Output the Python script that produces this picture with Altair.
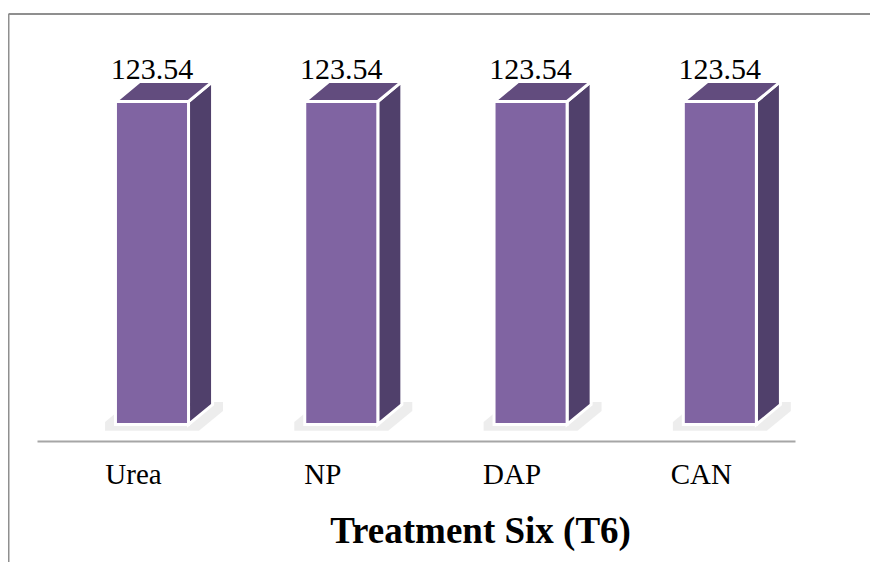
import altair as alt
import pandas as pd

categories = ["Urea", "NP", "DAP", "CAN"]
values = [123.54, 123.54, 123.54, 123.54]
value_labels = ["123.54", "123.54", "123.54", "123.54"]
tick_positions = [0, 1, 2, 3]
title_text = "Treatment Six (T6)"

FRONT = "#8064A2"
TOP = "#624C7E"
SIDE = "#50406B"
SHADOW = "#c4c4c4"
W = 0.386   # front width (category units)
D = 0.127   # depth along x (category units)
DV = 7.6    # depth along y (value units)

front_rows, side_rows, top_rows, shadow_rows, text_rows = [], [], [], [], []
for i, (c, v, lab) in enumerate(zip(categories, values, value_labels)):
    xl, xr = i - W / 2, i + W / 2
    front_rows.append({"cat": c, "xl": xl, "xr": xr, "v": v, "z": 0})
    side_rows += [
        {"cat": c, "x": xr, "y": v, "y2": 0},
        {"cat": c, "x": xr + D, "y": v + DV, "y2": DV},
    ]
    top_rows += [
        {"cat": c, "x": xl, "y": v, "y2": v},
        {"cat": c, "x": xl + D, "y": v + DV, "y2": v},
        {"cat": c, "x": xr, "y": v + DV, "y2": v},
        {"cat": c, "x": xr + D, "y": v + DV, "y2": v + DV},
    ]
    e, s = 0.055, 2.4
    shadow_rows += [
        {"cat": c, "x": xl - e, "y": 1.0, "y2": -s},
        {"cat": c, "x": xl + D - e, "y": DV + 1.0, "y2": -s},
        {"cat": c, "x": xr + e, "y": DV + 1.0, "y2": -s},
        {"cat": c, "x": xr + D + e, "y": DV + 1.0, "y2": DV - s},
    ]
    text_rows.append({"cat": c, "i": i, "vt": v + DV, "label": lab})

front = pd.DataFrame(front_rows)
side = pd.DataFrame(side_rows)
top = pd.DataFrame(top_rows)
shadow = pd.DataFrame(shadow_rows)
texts = pd.DataFrame(text_rows)

xscale = alt.Scale(domain=[-0.6075, 3.397], nice=False, zero=False)
yscale = alt.Scale(domain=[-6.3, 157.0], nice=False, zero=False)

label_expr = "[" + ",".join("'" + c + "'" for c in categories) + "][datum.value]"
xaxis = alt.Axis(
    values=tick_positions,
    labelExpr=label_expr,
    title=title_text,
    grid=False,
    ticks=False,
    domainColor="#A6A6A6",
    domainWidth=2,
    labelFont="Liberation Serif",
    labelFontSize=29,
    labelColor="black",
    labelOffset=-19,
    labelPadding=42,
    labelBaseline="alphabetic",
    labelFlush=False,
    labelOverlap=False,
    titleFont="Liberation Serif",
    titleFontSize=37,
    titleFontWeight="bold",
    titleColor="black",
    titleX=443,
    titleY=101,
    titleAlign="center",
    titleBaseline="alphabetic",
)

shadow_layer = alt.Chart(shadow).mark_area(fill=SHADOW, opacity=0.3).encode(
    x=alt.X("x:Q", scale=xscale, axis=xaxis),
    y=alt.Y("y:Q", scale=yscale, axis=None),
    y2="y2:Q",
    detail="cat:N",
)

side_layer = alt.Chart(side).mark_area(fill=SIDE, stroke="white", strokeWidth=3, strokeJoin="miter").encode(
    x=alt.X("x:Q", scale=xscale, axis=xaxis),
    y=alt.Y("y:Q", scale=yscale, axis=None),
    y2="y2:Q",
    detail="cat:N",
)

top_layer = alt.Chart(top).mark_area(fill=TOP, stroke="white", strokeWidth=3, strokeJoin="miter").encode(
    x=alt.X("x:Q", scale=xscale, axis=xaxis),
    y=alt.Y("y:Q", scale=yscale, axis=None),
    y2="y2:Q",
    detail="cat:N",
)

front_layer = alt.Chart(front).mark_bar(fill=FRONT, stroke="white", strokeWidth=3).encode(
    x=alt.X("xl:Q", scale=xscale, axis=xaxis),
    x2="xr:Q",
    y=alt.Y("v:Q", scale=yscale, axis=None),
    y2="z:Q",
)

text_layer = alt.Chart(texts).mark_text(
    font="Liberation Serif", fontSize=30, color="black", baseline="alphabetic", dy=-3
).encode(
    x=alt.X("i:Q", scale=xscale, axis=xaxis),
    y=alt.Y("vt:Q", scale=yscale, axis=None),
    text="label:N",
)

frame = pd.DataFrame({"a": [0]})
frame_top = alt.Chart(frame).mark_rule(color="#8f8f8f", strokeWidth=2).encode(
    x=alt.value(-28.5), x2=alt.value(840), y=alt.value(0)
)
frame_left = alt.Chart(frame).mark_rule(color="#8f8f8f", strokeWidth=2).encode(
    x=alt.value(-28.5), y=alt.value(0), y2=alt.value(560)
)

chart = alt.layer(
    shadow_layer, side_layer, top_layer, front_layer, text_layer, frame_top, frame_left
).properties(
    width=758,
    height=427,
    autosize=alt.AutoSizeParams(type="none"),
    padding={"left": 29, "top": 6, "right": 75, "bottom": 121},
    background="white",
).configure_view(stroke=None)

chart.save("out.html", embed_options={"renderer": "svg", "actions": False})
